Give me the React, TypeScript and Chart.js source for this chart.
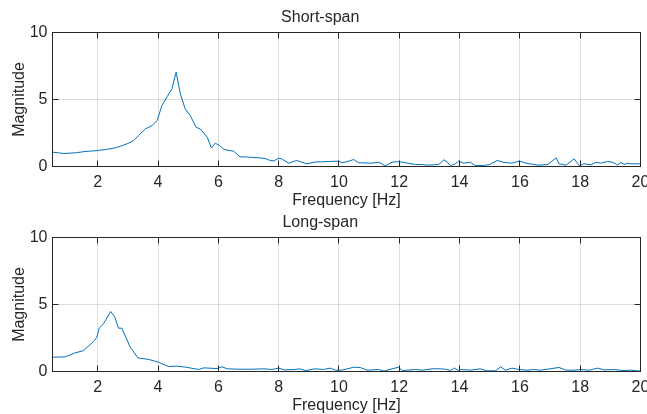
import React, { useEffect, useRef } from "react";
import { Chart, registerables } from "chart.js";

Chart.register(...registerables);

// ---- data ----
const freqShort = [
  0.5, 0.7, 0.87, 1.1, 1.3, 1.58, 2.0, 2.3, 2.58, 2.8, 3.0, 3.19, 3.35, 3.58, 3.8, 3.97,
  4.13, 4.3, 4.46, 4.6, 4.74, 4.9, 5.07, 5.26, 5.4, 5.63, 5.77, 5.9, 6.05, 6.18, 6.35, 6.51,
  6.72, 6.89, 7.1, 7.33, 7.55, 7.72, 7.85, 8.0, 8.1, 8.33, 8.6, 8.77, 8.94, 9.21, 9.45, 9.66,
  9.99, 10.1, 10.3, 10.49, 10.65, 11.1, 11.32, 11.54, 11.76, 11.98, 12.2, 12.54, 12.76, 12.93,
  13.31, 13.48, 13.58, 13.7, 13.86, 13.97, 14.14, 14.36, 14.52, 14.8, 15.0, 15.25, 15.44, 15.72,
  15.99, 16.2, 16.6, 16.93, 17.2, 17.3, 17.53, 17.8, 17.97, 18.13, 18.36, 18.52, 18.68, 18.9,
  19.07, 19.24, 19.35, 19.46, 19.57, 19.68, 20.0,
];
const magShort = [
  1.07, 1.02, 0.97, 1.0, 1.03, 1.12, 1.19, 1.28, 1.39, 1.55, 1.72, 1.94, 2.3, 2.81, 3.05, 3.43,
  4.55, 5.2, 5.8, 7.04, 5.42, 4.3, 3.8, 2.93, 2.8, 2.19, 1.39, 1.74, 1.55, 1.28, 1.2, 1.14,
  0.72, 0.72, 0.68, 0.65, 0.6, 0.45, 0.42, 0.62, 0.57, 0.25, 0.45, 0.32, 0.2, 0.34, 0.35, 0.37,
  0.4, 0.28, 0.38, 0.52, 0.28, 0.25, 0.32, 0.05, 0.32, 0.37, 0.28, 0.15, 0.15, 0.1,
  0.15, 0.5, 0.35, 0.07, 0.2, 0.4, 0.25, 0.32, 0.07, 0.07, 0.15, 0.45, 0.32, 0.25,
  0.4, 0.25, 0.1, 0.15, 0.65, 0.2, 0.1, 0.57, 0.07, 0.2, 0.12, 0.32, 0.25, 0.37,
  0.32, 0.12, 0.3, 0.15, 0.25, 0.2, 0.2,
];

const freqLong = [
  0.5, 0.92, 1.25, 1.53, 1.86, 1.97, 2.05, 2.19, 2.43, 2.56, 2.69, 2.8, 3.08, 3.33, 3.69, 4.02,
  4.35, 4.63, 4.9, 5.35, 5.52, 5.96, 6.12, 6.3, 6.68, 7.12, 7.5, 7.77, 8.0, 8.2, 8.55, 8.7,
  8.9, 9.21, 9.49, 9.71, 9.88, 10.1, 10.49, 10.7, 10.93, 11.32, 11.49, 11.76, 11.98, 12.1,
  12.54, 12.76, 13.1, 13.37, 13.53, 13.7, 13.83, 13.97, 14.03, 14.36, 14.69, 14.91, 15.19,
  15.36, 15.52, 15.74, 15.96, 16.24, 16.46, 16.68, 17.0, 17.3, 17.53, 17.8, 18.02, 18.3,
  18.58, 18.8, 19.13, 19.4, 19.68, 19.9, 20.0,
];
const magLong = [
  1.07, 1.09, 1.39, 1.56, 2.24, 2.56, 3.23, 3.56, 4.48, 4.1, 3.23, 3.23, 1.81, 1.02, 0.9, 0.69,
  0.37, 0.4, 0.33, 0.15, 0.27, 0.22, 0.35, 0.2, 0.17, 0.17, 0.2, 0.15, 0.25, 0.12, 0.15, 0.2,
  0.07, 0.2, 0.15, 0.25, 0.1, 0.1, 0.32, 0.3, 0.1, 0.15, 0.03, 0.2, 0.32, 0.07,
  0.15, 0.1, 0.2, 0.2, 0.17, 0.07, 0.25, 0.07, 0.15, 0.1, 0.2, 0.05, 0.05,
  0.35, 0.1, 0.25, 0.15, 0.1, 0.15, 0.1, 0.2, 0.3, 0.1, 0.1, 0.15, 0.1,
  0.25, 0.12, 0.15, 0.07, 0.1, 0.05, 0.03,
];

const xTickValues = [2, 4, 6, 8, 10, 12, 14, 16, 18, 20];
const yTickValues = [0, 5, 10];

const titles = ["Short-span", "Long-span"];
const xLabel = "Frequency [Hz]";
const yLabel = "Magnitude";

// ---- styles ----
const FONT = "'Liberation Sans', Arial, Helvetica, sans-serif";
const TEXT = "#262626";
const GRID = "rgba(38,38,38,0.15)";
const LINE = "#0072BD";
const W = 647;
const H = 212;

const boxPlugin = {
  id: "matlabBox",
  afterDatasetsDraw(chart: any) {
    const { ctx, chartArea: a, scales } = chart;
    const align = (p: number) => Math.round(p - 0.5) + 0.5;
    const L = 6;
    ctx.save();
    ctx.strokeStyle = TEXT;
    ctx.lineWidth = 1;
    ctx.strokeRect(a.left, a.top, a.right - a.left, a.bottom - a.top);
    ctx.beginPath();
    for (const t of scales.x.ticks) {
      const px = align(scales.x.getPixelForValue(t.value));
      ctx.moveTo(px, a.bottom);
      ctx.lineTo(px, a.bottom - L);
      ctx.moveTo(px, a.top);
      ctx.lineTo(px, a.top + L);
    }
    for (const t of scales.y.ticks) {
      const py = align(scales.y.getPixelForValue(t.value));
      ctx.moveTo(a.left, py);
      ctx.lineTo(a.left + L, py);
      ctx.moveTo(a.right, py);
      ctx.lineTo(a.right - L, py);
    }
    ctx.stroke();
    ctx.restore();
  },
};

function makeConfig(title: string, freq: number[], mag: number[]): any {
  const font = { family: FONT, size: 16, weight: "normal" as const };
  return {
    type: "line",
    data: {
      datasets: [
        {
          data: freq.map((f, i) => ({ x: f, y: mag[i] })),
          borderColor: LINE,
          borderWidth: 1,
          pointRadius: 0,
          tension: 0,
          fill: false,
        },
      ],
    },
    options: {
      animation: false,
      responsive: false,
      maintainAspectRatio: false,
      devicePixelRatio: 1,
      events: [],
      layout: { padding: { left: 0, right: 6.5, top: 0, bottom: 0 } },
      plugins: {
        legend: { display: false },
        tooltip: { enabled: false },
        title: {
          display: true,
          text: title,
          color: TEXT,
          font,
          padding: { top: 8.2, bottom: 5.1 },
        },
      },
      scales: {
        x: {
          type: "linear",
          min: 0.5,
          max: 20,
          afterBuildTicks: (s: any) => {
            s.ticks = xTickValues.map((v) => ({ value: v }));
          },
          afterFit: (s: any) => {
            s.height = H - 166.5;
            s.paddingLeft = 0;
            s.paddingRight = 0;
          },
          grid: { color: GRID, lineWidth: 1, drawTicks: false },
          border: { display: false },
          ticks: {
            color: TEXT,
            font,
            padding: 6.6,
            autoSkip: false,
            maxRotation: 0,
            minRotation: 0,
          },
          title: {
            display: true,
            text: xLabel,
            color: TEXT,
            font,
            padding: { top: 0, bottom: 2 },
          },
        },
        y: {
          type: "linear",
          min: 0,
          max: 10,
          afterBuildTicks: (s: any) => {
            s.ticks = yTickValues.map((v) => ({ value: v }));
          },
          afterFit: (s: any) => {
            s.width = 52.5;
            s.paddingTop = 0;
            s.paddingBottom = 0;
          },
          grid: { color: GRID, lineWidth: 1, drawTicks: false },
          border: { display: false },
          ticks: { color: TEXT, font, padding: 5 },
          title: {
            display: true,
            text: yLabel,
            color: TEXT,
            font,
            padding: { top: 9.7, bottom: 0 },
          },
        },
      },
    },
    plugins: [boxPlugin],
  };
}

function Panel({ top, title, freq, mag }: { top: number; title: string; freq: number[]; mag: number[] }) {
  const ref = useRef<HTMLCanvasElement | null>(null);
  useEffect(() => {
    if (!ref.current) return;
    const chart = new Chart(ref.current, makeConfig(title, freq, mag));
    return () => chart.destroy();
  }, [title, freq, mag]);
  return (
    <canvas
      ref={ref}
      width={W}
      height={H}
      style={{ position: "absolute", left: 0, top, width: W, height: H, display: "block" }}
    />
  );
}

export default function App() {
  return (
    <div
      style={{
        position: "fixed",
        left: 0,
        top: 0,
        width: W,
        height: 414,
        overflow: "hidden",
        background: "#ffffff",
      }}
    >
      <Panel top={0} title={titles[0]} freq={freqShort} mag={magShort} />
      <Panel top={205} title={titles[1]} freq={freqLong} mag={magLong} />
    </div>
  );
}
